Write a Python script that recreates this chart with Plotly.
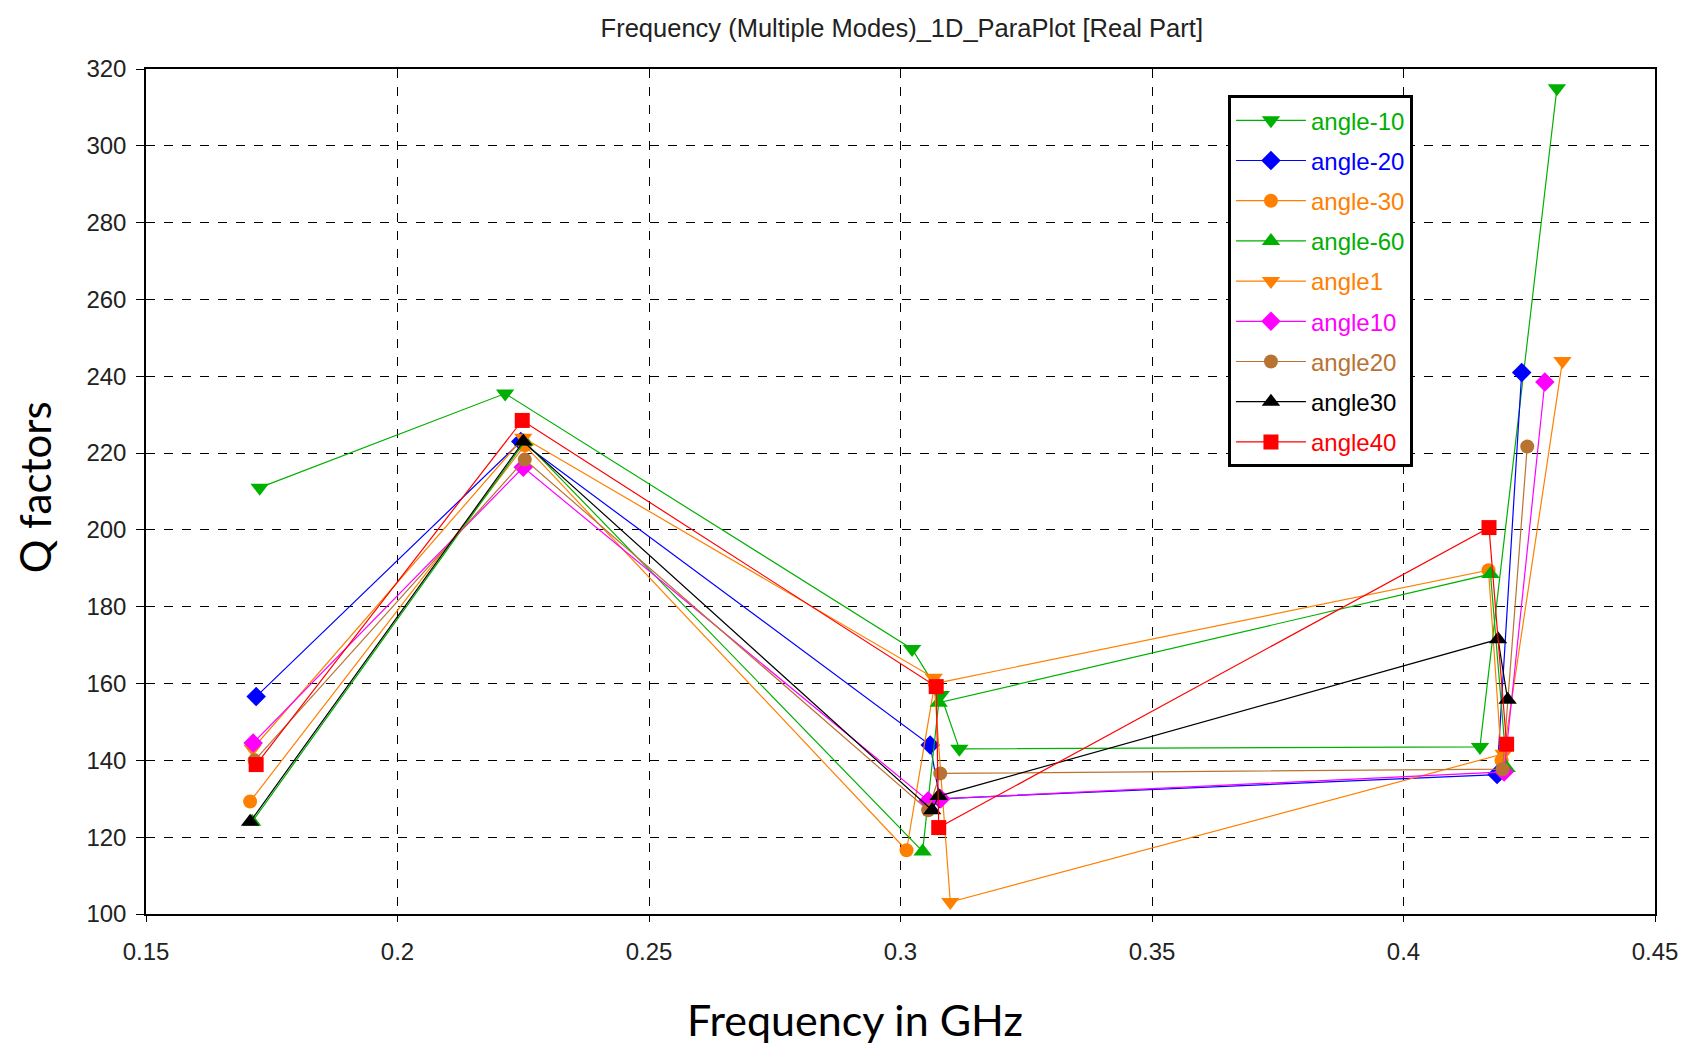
import plotly.graph_objects as go

# ---- data (frequency in GHz, Q factor) ----
names = ["angle-10", "angle-20", "angle-30", "angle-60", "angle1", "angle10", "angle20", "angle30", "angle40"]

f_angle_m10 = [0.1726, 0.2214, 0.3023, 0.3080, 0.3117, 0.4152, 0.4305]
q_angle_m10 = [211, 235.5, 169, 157, 143, 143.5, 315]

f_angle_m20 = [0.1719, 0.2245, 0.3059, 0.3078, 0.4186, 0.4235]
q_angle_m20 = [156.6, 223, 144, 130, 136.3, 241]

f_angle_m30 = [0.1707, 0.2253, 0.3012, 0.3068, 0.4169, 0.4195]
q_angle_m30 = [129.3, 222, 116.6, 160, 189.5, 140]

f_angle_m60 = [0.1711, 0.2253, 0.3044, 0.3076, 0.4173, 0.4205]
q_angle_m60 = [124, 223, 116.3, 155, 188.5, 138]

f_angle_1 = [0.1712, 0.2250, 0.3066, 0.3099, 0.4199, 0.4316]
q_angle_1 = [143, 224, 161.5, 103.1, 141.7, 244]

f_angle_10 = [0.1713, 0.2250, 0.3055, 0.3080, 0.4200, 0.4281]
q_angle_10 = [144.5, 216.3, 129.5, 130, 137, 238.5]

f_angle_20 = [0.1716, 0.2253, 0.3055, 0.3079, 0.4197, 0.4246]
q_angle_20 = [140, 218.3, 127, 136.6, 137.7, 221.7]

f_angle_30 = [0.1707, 0.2250, 0.3063, 0.3076, 0.4188, 0.4207]
q_angle_30 = [124, 223, 127, 130.7, 171.5, 155.8]

f_angle_40 = [0.1719, 0.2248, 0.3071, 0.3076, 0.4170, 0.4205]
q_angle_40 = [138.9, 228.5, 159.2, 122.5, 200.6, 144.2]

x_ticks = [0.15, 0.2, 0.25, 0.3, 0.35, 0.4, 0.45]
y_ticks = [100, 120, 140, 160, 180, 200, 220, 240, 260, 280, 300, 320]

series = [
    (f_angle_m10, q_angle_m10),
    (f_angle_m20, q_angle_m20),
    (f_angle_m30, q_angle_m30),
    (f_angle_m60, q_angle_m60),
    (f_angle_1, q_angle_1),
    (f_angle_10, q_angle_10),
    (f_angle_20, q_angle_20),
    (f_angle_30, q_angle_30),
    (f_angle_40, q_angle_40),
]

colors = ["#00B000", "#0000FF", "#FF8000", "#00B000", "#FF8000", "#FF00FF", "#B87333", "#000000", "#FF0000"]
symbols = ["triangle-down", "diamond", "circle", "triangle-up", "triangle-down", "diamond", "circle", "triangle-up", "square"]
sizes = [16, 15, 14, 16, 16, 15, 14, 16, 15]

fig = go.Figure()
for i, (name, (fx, qy)) in enumerate(zip(names, series)):
    fig.add_trace(go.Scatter(
        x=fx, y=qy, mode="lines+markers",
        name=f"<span style='color:{colors[i]}'>{name}</span>",
        legendgroup=name,
        line=dict(color=colors[i], width=1.2),
        marker=dict(symbol=symbols[i], size=sizes[i], color=colors[i], line=dict(width=0)),
    ))

narrow = "Liberation Sans Narrow, Liberation Sans, Arial, sans-serif"
tick_font = dict(family=narrow, size=24, color="#222")
big = "Lato, Open Sans, sans-serif"

fig.update_layout(
    width=1696, height=1044,
    paper_bgcolor="white", plot_bgcolor="white",
    margin=dict(l=138, r=49, t=61, b=138),
    title=dict(text="Frequency (Multiple Modes)_1D_ParaPlot [Real Part]",
               font=dict(family=narrow, size=25.5, color="#222"),
               x=0.527, xanchor="center", y=0.981, yanchor="middle"),
    xaxis=dict(range=[0.15, 0.45], tickvals=x_ticks, ticktext=[str(v) for v in x_ticks],
               showgrid=True, gridcolor="black", griddash="dash", gridwidth=1,
               showline=True, linecolor="black", linewidth=1.5, mirror=True,
               ticks="outside", ticklen=6, tickcolor="black", tickfont=tick_font,
               ticklabelstandoff=9, zeroline=False, automargin=False),
    yaxis=dict(range=[100, 320], tickvals=y_ticks,
               showgrid=True, gridcolor="black", griddash="dash", gridwidth=1,
               showline=True, linecolor="black", linewidth=1.5, mirror=True,
               ticks="outside", ticklen=8, tickcolor="black", tickfont=tick_font,
               ticklabelstandoff=5, zeroline=False, automargin=False),
    annotations=[
        dict(text="Q factors", xref="paper", yref="paper", x=-0.0735, y=0.505,
             xanchor="center", yanchor="middle", textangle=-90, showarrow=False,
             font=dict(family=big, size=42, color="black")),
        dict(text="Frequency in GHz", xref="paper", yref="paper", x=0.47, y=-0.125,
             xanchor="center", yanchor="middle", showarrow=False,
             font=dict(family=big, size=43, color="black")),
    ],
    legend=dict(x=0.717, y=0.969, xanchor="left", yanchor="top",
                bgcolor="white", bordercolor="black", borderwidth=3,
                font=dict(family=narrow, size=24),
                tracegroupgap=6, itemwidth=70, entrywidth=203),
)

fig.write_html("out.html")
